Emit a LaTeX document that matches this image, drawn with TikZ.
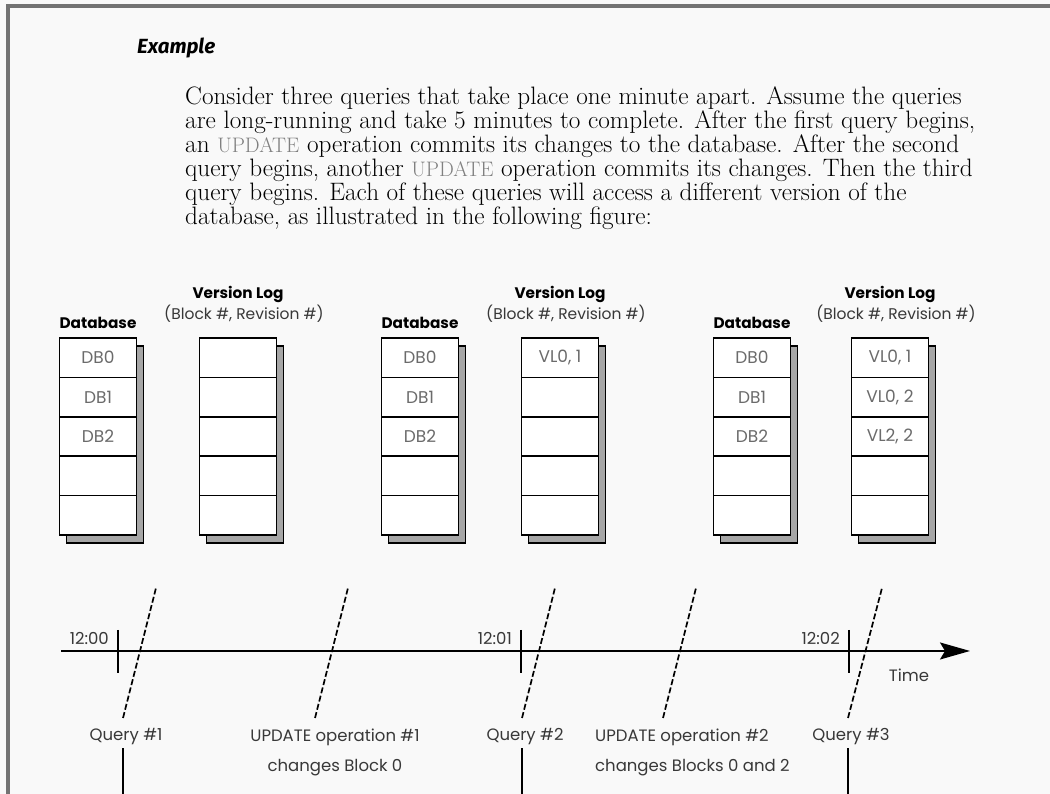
\documentclass[tikz,border=0pt]{standalone}
\usepackage{fontspec}
\usepackage{xcolor}
\usepackage{tikz}
\usetikzlibrary{positioning}
\usetikzlibrary{arrows.meta}
\newfontfamily\figfont{Poppins}
\newfontfamily\headfont{Fira Sans}
\newcommand{\sqlword}[1]{{\color{gray}\fontsize{21}{24}\selectfont #1}}
\definecolor{framegray}{gray}{0.45}
\definecolor{shadegray}{gray}{0.65}
\definecolor{labelgray}{gray}{0.42}
\definecolor{inkgray}{gray}{0.22}
\definecolor{paper}{gray}{0.975}

\begin{document}
\begin{tikzpicture}[x=1pt, y=1pt,
    cell/.style={draw, line width=1.6pt, fill=white, minimum width=77pt,
        minimum height=39.4pt, inner sep=0pt, text=labelgray,
        font=\figfont\fontsize{17}{17}\selectfont},
    shade/.style={fill=shadegray, draw=black, line width=1.6pt},
    head/.style={inner sep=0pt, font=\figfont\bfseries\fontsize{15.3}{15.3}\selectfont},
    subhead/.style={inner sep=0pt, text=inkgray, font=\figfont\fontsize{15.5}{15.5}\selectfont},
    tlabel/.style={inner sep=3pt, text=inkgray, font=\figfont\fontsize{16.5}{30}\selectfont},
    slant/.style={dashed, dash pattern=on 6pt off 2.5pt, line width=1.7pt}]
    \useasboundingbox (0,0) rectangle (1050,794);
    \fill[paper] (0,0) rectangle (1050,794);
    \draw[framegray, line width=4pt] (1050,787.5) -- (7.5,787.5) -- (7.5,0);

    % text above the figure
    \node[anchor=west, inner sep=0pt, font=\headfont\bfseries\itshape\fontsize{20.5}{20.5}\selectfont]
        (title) at (137,746) {Example};
    \node[anchor=north west, align=left, inner sep=0pt, text=black,
        font=\fontsize{25.2}{24}\selectfont] (body) at (185,708)
        {Consider three queries that take place one minute apart. Assume the queries\\
        are long-running and take 5 minutes to complete. After the first query begins,\\
        an \sqlword{UPDATE} operation commits its changes to the database. After the second\\
        query begins, another \sqlword{UPDATE} operation commits its changes. Then the third\\
        query begins. Each of these queries will access a different version of the\\
        database, as illustrated in the following figure:};

    % database and version log at each minute
    \foreach \g/\dx/\vx/\va/\vb/\vc in {1/98/238/{}/{}/{}, 2/420/560/{VL0, 1}/{}/{},
            3/752/890/{VL0, 1}/{VL0, 2}/{VL2, 2}} {
        \filldraw[shade] ({\dx-31.5},448) rectangle ({\dx+45.5},251);
        \filldraw[shade] ({\vx-31.5},448) rectangle ({\vx+45.5},251);
        \foreach \r/\txt in {1/DB0, 2/DB1, 3/DB2, 4/{}, 5/{}}
            \node[cell] (db\g-\r) at (\dx, {436.3-(\r-1)*39.4}) {\txt};
        \foreach \r/\txt in {1/\va, 2/\vb, 3/\vc, 4/{}, 5/{}}
            \node[cell] (vl\g-\r) at (\vx, {436.3-(\r-1)*39.4}) {\txt};
        \node[head] (dbhead\g) at (\dx,471) {Database};
        \node[head] (vlhead\g) at (\vx,500) {Version Log};
        \node[subhead] (vlsub\g) at ({\vx+6},480) {(Block \#, Revision \#)};
    }

    % time axis
    \coordinate (t-start) at (61,143);
    \coordinate (t-end) at (970,143);
    \draw[line width=1.8pt, -{Stealth[length=30pt, width=17pt, inset=5pt]}] (t-start) -- (t-end);
    \foreach \x/\xtext in {118/12:00, 521/12:01, 849/12:02} {
        \draw[line width=1.6pt] (\x,164) -- (\x,121);
        \node[tlabel, anchor=east] at ({\x-6},156) {\xtext};
    }
    \node[tlabel] (time) at (909,119) {Time};

    % events
    \foreach \e/\lx/\hx in {q1/123/156, u1/315/348, q2/522/555, u2/663/696, q3/848/882} {
        \coordinate (\e-low) at (\lx,76);
        \coordinate (\e-high) at (\hx,206);
        \draw[slant] (\e-low) -- (\e-high);
    }
    \node[tlabel] (q1) at (126,57) {Query \#1};
    \node[tlabel] (q2) at (525,57) {Query \#2};
    \node[tlabel] (q3) at (851,57) {Query \#3};
    \node[tlabel, align=center] (u1) at (335,42) {UPDATE operation \#1\\changes Block 0};
    \node[tlabel, align=left, anchor=west] (u2) at (592,42) {UPDATE operation \#2\\changes Blocks 0 and 2};
    \foreach \e in {q1, q2, q3} {
        \coordinate (\e-foot) at (\e-low |- 0,0);
        \draw[line width=1.6pt] (\e-low |- \e.south) -- (\e-foot);
    }
\end{tikzpicture}
\end{document}
